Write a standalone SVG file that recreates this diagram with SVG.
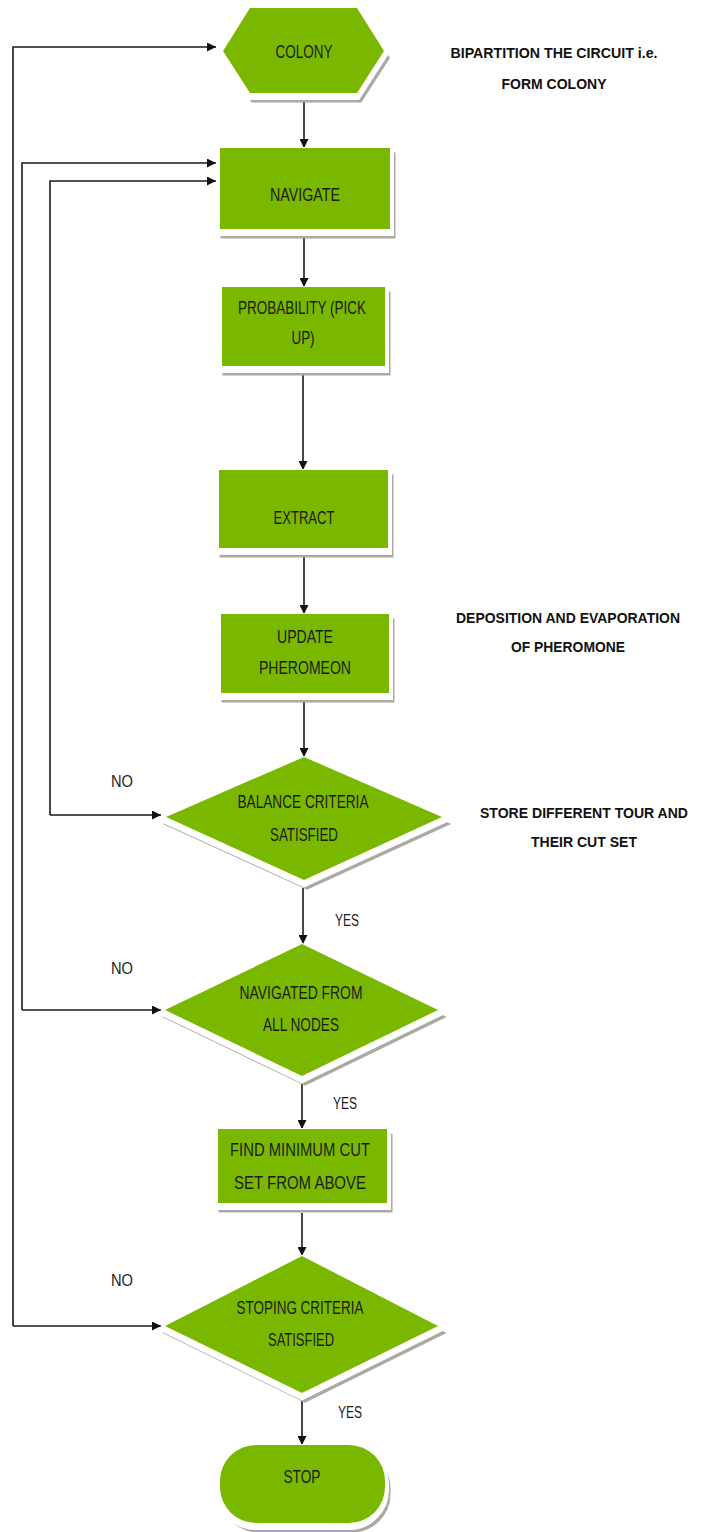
<svg xmlns="http://www.w3.org/2000/svg" width="710" height="1532" viewBox="0 0 710 1532">
<defs>
<style>
.sh{fill:#a9aaa4;stroke:#a9aaa4;stroke-width:5;stroke-linejoin:miter}
.wh{fill:#ffffff;stroke:#ffffff;stroke-width:8;stroke-linejoin:miter}
.gr{fill:#7ab800}
.t{font-family:"Liberation Sans",Arial,sans-serif;font-size:18px;fill:#1c1c1c;text-anchor:middle}
.lbl{font-family:"Liberation Sans",Arial,sans-serif;font-size:16px;fill:#1c1c1c}
.note{font-family:"Liberation Sans",Arial,sans-serif;font-size:15px;font-weight:bold;fill:#111;text-anchor:middle}
.ln{fill:none;stroke:#1a1a1a;stroke-width:1.6}
</style>
<marker id="ah" viewBox="0 0 10 10" refX="10" refY="5" markerWidth="9" markerHeight="9" markerUnits="userSpaceOnUse" orient="auto">
<path d="M0,0 L10,5 L0,10 z" fill="#111"/>
</marker>
</defs>

<g id="connectors">
<path class="ln" marker-end="url(#ah)" d="M304,100 V148"/>
<path class="ln" marker-end="url(#ah)" d="M304,237 V287"/>
<path class="ln" marker-end="url(#ah)" d="M303,374 V470"/>
<path class="ln" marker-end="url(#ah)" d="M304,557 V614"/>
<path class="ln" marker-end="url(#ah)" d="M304,700 V757"/>
<path class="ln" marker-end="url(#ah)" d="M303,888 V944"/>
<path class="ln" marker-end="url(#ah)" d="M302,1083 V1129"/>
<path class="ln" marker-end="url(#ah)" d="M302,1213 V1256"/>
<path class="ln" marker-end="url(#ah)" d="M302,1400 V1445"/>
<path class="ln" marker-end="url(#ah)" d="M13,1326 V47 H216"/>
<path class="ln" marker-end="url(#ah)" d="M13,1326 H161"/>
<path class="ln" marker-end="url(#ah)" d="M22,1010 V163 H216"/>
<path class="ln" marker-end="url(#ah)" d="M22,1010 H161"/>
<path class="ln" marker-end="url(#ah)" d="M50,815 V181 H216"/>
<path class="ln" marker-end="url(#ah)" d="M50,815 H161"/>
</g>

<g id="colony">
<polygon class="sh" transform="translate(3,7)" points="223,51 250,8 357,8 384,51 357,93 250,93"/>
<polygon class="wh" transform="translate(0,3)" points="223,51 250,8 357,8 384,51 357,93 250,93"/>
<polygon class="gr" points="223,51 250,8 357,8 384,51 357,93 250,93"/>
<text class="t" x="304" y="58" textLength="57" lengthAdjust="spacingAndGlyphs">COLONY</text>
</g>

<g id="navigate">
<rect class="sh" x="223" y="155" width="170" height="81"/>
<rect class="wh" x="220" y="151" width="170" height="81"/>
<rect class="gr" x="220" y="148" width="170" height="81"/>
<text class="t" x="305" y="201" textLength="70" lengthAdjust="spacingAndGlyphs">NAVIGATE</text>
</g>

<g id="probability">
<rect class="sh" x="225" y="294" width="163" height="79"/>
<rect class="wh" x="222" y="290" width="163" height="79"/>
<rect class="gr" x="222" y="287" width="163" height="79"/>
<text class="t" x="302" y="314" textLength="128" lengthAdjust="spacingAndGlyphs">PROBABILITY (PICK</text>
<text class="t" x="303" y="344" textLength="23" lengthAdjust="spacingAndGlyphs">UP)</text>
</g>

<g id="extract">
<rect class="sh" x="222" y="477" width="169" height="78"/>
<rect class="wh" x="219" y="473" width="169" height="78"/>
<rect class="gr" x="219" y="470" width="169" height="78"/>
<text class="t" x="304" y="524" textLength="61" lengthAdjust="spacingAndGlyphs">EXTRACT</text>
</g>

<g id="update">
<rect class="sh" x="224" y="621" width="168" height="79"/>
<rect class="wh" x="221" y="617" width="168" height="79"/>
<rect class="gr" x="221" y="614" width="168" height="79"/>
<text class="t" x="305" y="643" textLength="56" lengthAdjust="spacingAndGlyphs">UPDATE</text>
<text class="t" x="305" y="674" textLength="92" lengthAdjust="spacingAndGlyphs">PHEROMEON</text>
</g>

<g id="balance">
<polygon class="sh" transform="translate(3,7)" points="304,757 442,817 304,880 166,817"/>
<polygon class="wh" transform="translate(0,3)" points="304,757 442,817 304,880 166,817"/>
<polygon class="gr" points="304,757 442,817 304,880 166,817"/>
<text class="t" x="303" y="808" textLength="131" lengthAdjust="spacingAndGlyphs">BALANCE CRITERIA</text>
<text class="t" x="304" y="841" textLength="68" lengthAdjust="spacingAndGlyphs">SATISFIED</text>
</g>

<g id="navigated">
<polygon class="sh" transform="translate(3,7)" points="302,944 438,1010 302,1076 165,1010"/>
<polygon class="wh" transform="translate(0,3)" points="302,944 438,1010 302,1076 165,1010"/>
<polygon class="gr" points="302,944 438,1010 302,1076 165,1010"/>
<text class="t" x="301" y="999" textLength="123" lengthAdjust="spacingAndGlyphs">NAVIGATED FROM</text>
<text class="t" x="301" y="1031" textLength="76" lengthAdjust="spacingAndGlyphs">ALL NODES</text>
</g>

<g id="findmin">
<rect class="sh" x="221" y="1136" width="169" height="74"/>
<rect class="wh" x="218" y="1132" width="169" height="74"/>
<rect class="gr" x="218" y="1129" width="169" height="74"/>
<text class="t" x="300" y="1156" textLength="140" lengthAdjust="spacingAndGlyphs">FIND MINIMUM CUT</text>
<text class="t" x="300" y="1189" textLength="132" lengthAdjust="spacingAndGlyphs">SET FROM ABOVE</text>
</g>

<g id="stoping">
<polygon class="sh" transform="translate(3,7)" points="302,1256 438,1326 302,1393 165,1326"/>
<polygon class="wh" transform="translate(0,3)" points="302,1256 438,1326 302,1393 165,1326"/>
<polygon class="gr" points="302,1256 438,1326 302,1393 165,1326"/>
<text class="t" x="300" y="1314" textLength="127" lengthAdjust="spacingAndGlyphs">STOPING CRITERIA</text>
<text class="t" x="301" y="1346" textLength="66" lengthAdjust="spacingAndGlyphs">SATISFIED</text>
</g>

<g id="stop">
<rect class="sh" x="223" y="1452" width="165" height="78" rx="36"/>
<rect class="wh" x="220" y="1448" width="165" height="78" rx="36"/>
<rect class="gr" x="220" y="1445" width="165" height="78" rx="36"/>
<text class="t" x="302" y="1483" textLength="37" lengthAdjust="spacingAndGlyphs">STOP</text>
</g>

<g id="labels">
<text class="lbl" x="335" y="926" textLength="24" lengthAdjust="spacingAndGlyphs">YES</text>
<text class="lbl" x="333" y="1109" textLength="24" lengthAdjust="spacingAndGlyphs">YES</text>
<text class="lbl" x="338" y="1418" textLength="24" lengthAdjust="spacingAndGlyphs">YES</text>
<text class="lbl" x="111" y="787" textLength="22" lengthAdjust="spacingAndGlyphs">NO</text>
<text class="lbl" x="111" y="974" textLength="22" lengthAdjust="spacingAndGlyphs">NO</text>
<text class="lbl" x="111" y="1286" textLength="22" lengthAdjust="spacingAndGlyphs">NO</text>
</g>

<g id="notes">
<text class="note" x="554" y="58" textLength="207" lengthAdjust="spacingAndGlyphs">BIPARTITION THE CIRCUIT i.e.</text>
<text class="note" x="554" y="89" textLength="105" lengthAdjust="spacingAndGlyphs">FORM COLONY</text>
<text class="note" x="568" y="623" textLength="224" lengthAdjust="spacingAndGlyphs">DEPOSITION AND EVAPORATION</text>
<text class="note" x="568" y="652" textLength="114" lengthAdjust="spacingAndGlyphs">OF PHEROMONE</text>
<text class="note" x="584" y="818" textLength="208" lengthAdjust="spacingAndGlyphs">STORE DIFFERENT TOUR AND</text>
<text class="note" x="584" y="847" textLength="106" lengthAdjust="spacingAndGlyphs">THEIR CUT SET</text>
</g>
</svg>
